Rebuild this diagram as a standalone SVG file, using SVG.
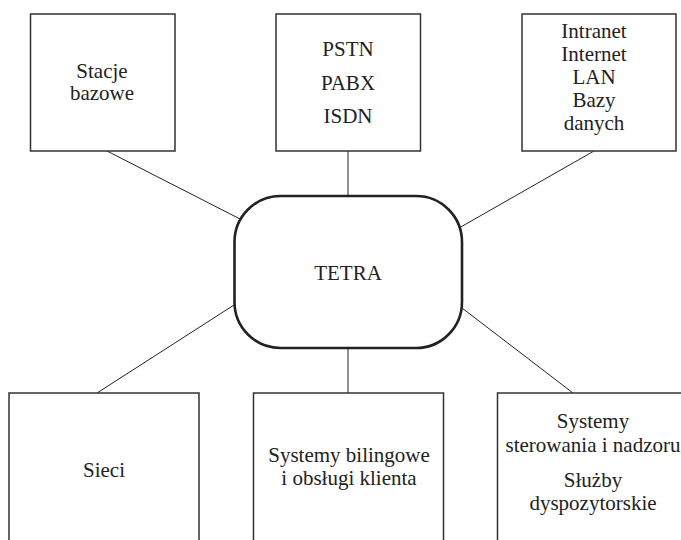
<svg xmlns="http://www.w3.org/2000/svg" width="681" height="540" viewBox="0 0 681 540">
<style>
.box{fill:#fff;stroke:#333;stroke-width:1.5}
.hub{fill:#fff;stroke:#222;stroke-width:2.6}
.ln{stroke:#222;stroke-width:1;fill:none}
text{font-family:'Liberation Serif','Times New Roman',serif;font-size:21px;fill:#222;text-anchor:middle}
</style>
<rect width="681" height="540" fill="#fff"/>
<g id="connectors">
<line class="ln" x1="107" y1="151" x2="242" y2="220"/>
<line class="ln" x1="348" y1="151" x2="348" y2="196"/>
<line class="ln" x1="594" y1="151" x2="459" y2="228"/>
<line class="ln" x1="234" y1="305" x2="97" y2="393"/>
<line class="ln" x1="348" y1="348" x2="348" y2="393"/>
<line class="ln" x1="462" y1="308" x2="573" y2="393"/>
</g>
<g font-family="Liberation Serif, serif">
<g id="stacje">
<rect class="box" x="30.5" y="14" width="144.5" height="137"/>
<text x="102" y="78">Stacje</text>
<text x="102" y="100">bazowe</text>
</g>
<g id="pstn">
<rect class="box" x="276" y="14" width="144.5" height="137"/>
<text x="348" y="56">PSTN</text>
<text x="348" y="90">PABX</text>
<text x="348" y="123">ISDN</text>
</g>
<g id="intranet">
<rect class="box" x="522" y="14" width="154" height="137"/>
<text x="594" y="38">Intranet</text>
<text x="594" y="61">Internet</text>
<text x="594" y="84">LAN</text>
<text x="594" y="107">Bazy</text>
<text x="594" y="130">danych</text>
</g>
<g id="tetra">
<rect class="hub" x="234.5" y="196" width="227.5" height="152" rx="46" ry="46"/>
<text x="348" y="280">TETRA</text>
</g>
<g id="sieci">
<rect class="box" x="9" y="393" width="190" height="170"/>
<text x="104" y="477">Sieci</text>
</g>
<g id="billing">
<rect class="box" x="253.5" y="393" width="190" height="170"/>
<text x="349" y="462">Systemy bilingowe</text>
<text x="349" y="485">i obsługi klienta</text>
</g>
<g id="sterowanie">
<rect class="box" x="497.5" y="393" width="210" height="170"/>
<text x="593" y="428">Systemy</text>
<text x="593" y="452">sterowania i nadzoru</text>
<text x="593" y="487">Służby</text>
<text x="593" y="510">dyspozytorskie</text>
</g>
</g>
</svg>
